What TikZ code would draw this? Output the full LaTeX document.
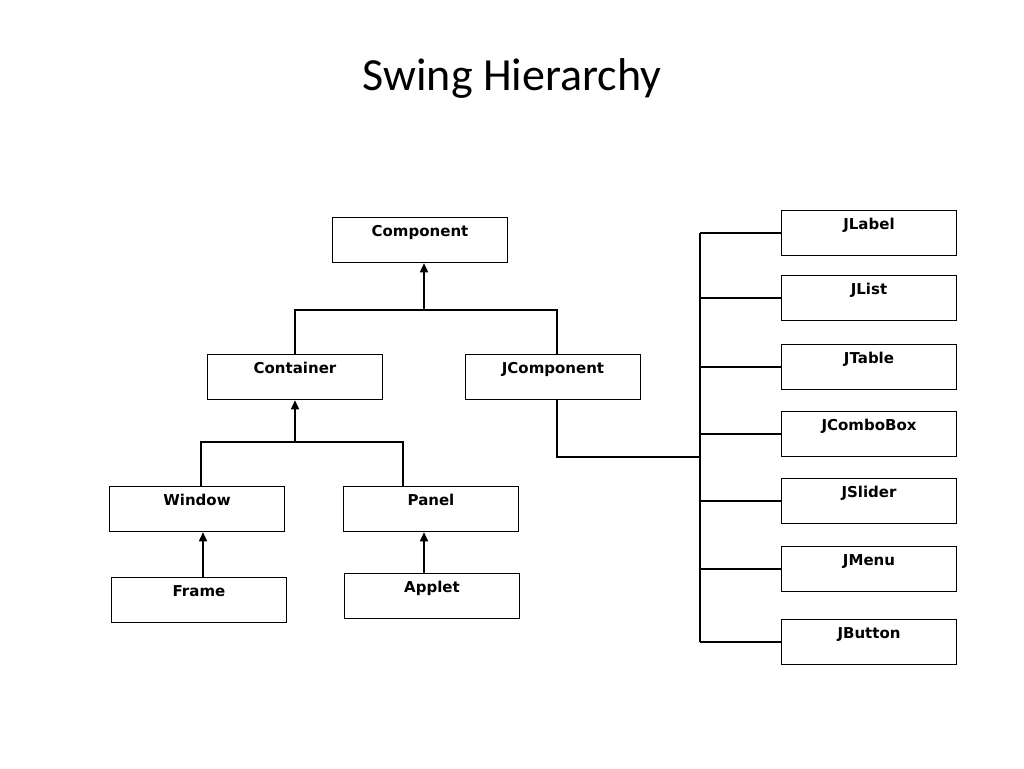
\documentclass[tikz,border=0pt]{standalone}
\usepackage{fontspec}
\setmainfont{Carlito}
\newfontfamily\boxfont{DejaVu Sans}
\usetikzlibrary{arrows.meta, positioning}

\begin{document}
\begin{tikzpicture}[x=1pt, y=-1pt,
    cls/.style={draw, line width=1.5pt, minimum width=175pt, minimum height=45pt, inner sep=0pt,
                text height=11pt, text depth=19pt,
                font=\boxfont\bfseries\fontsize{15}{17}\selectfont},
    link/.style={line width=1.5pt},
    up/.style={line width=1.5pt, -{Triangle[length=9pt, width=8pt]}}]
    \useasboundingbox (0,0) rectangle (1024,768);
    \node[font=\fontsize{46}{50}\selectfont] (title) at (512,78) {Swing Hierarchy};
    % left tree
    \node[cls] (comp) at (420,240) {Component};
    \node[cls] (cont) at (295,377) {Container};
    \node[cls] (jcomp) at (553,377) {JComponent};
    \node[cls] (win) at (197,509) {Window};
    \node[cls] (panel) at (431,509) {Panel};
    \node[cls] (frame) at (199,600) {Frame};
    \node[cls] (applet) at (432,596) {Applet};
    \coordinate (j1) at (424,310);
    \coordinate (j2) at (295,442);
    \draw[up] (j1) -- (j1 |- comp.south);
    \draw[link] (cont.north -| 295,0) |- (j1) -| (jcomp.north -| 557,0);
    \draw[up] (j2) -- (cont.south);
    \draw[link] (win.north -| 201,0) |- (j2) -| (panel.north -| 403,0);
    \draw[up] (frame.north -| 203,0) -- (win.south -| 203,0);
    \draw[up] (applet.north -| 424,0) -- (panel.south -| 424,0);
    % right column
    \foreach \name/\txt/\yy in {lab/JLabel/233, lst/JList/298, tab/JTable/367,
        cmb/JComboBox/434, sld/JSlider/501, mnu/JMenu/569, btn/JButton/642} {
        \node[cls] (\name) at (869,\yy) {\txt};
        \draw[link] (700,\yy) -- (\name.west);
    }
    \coordinate (bus) at (700,457);
    \draw[link] (lab.west -| bus) -- (btn.west -| bus);
    \draw[link] (jcomp.south -| 557,0) |- (bus);
\end{tikzpicture}
\end{document}
